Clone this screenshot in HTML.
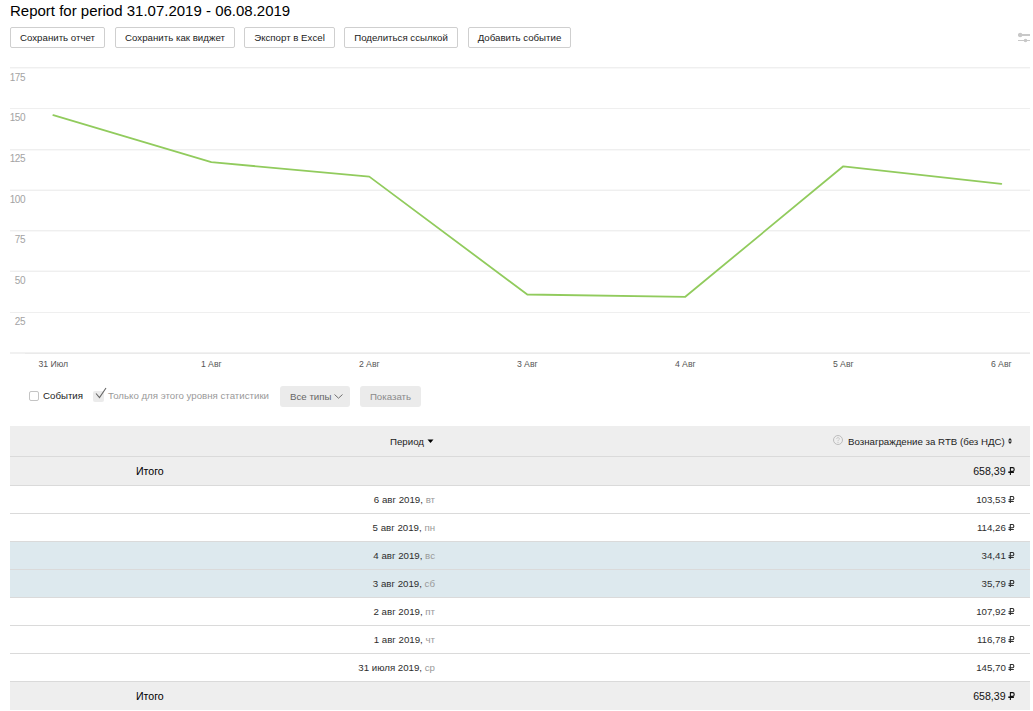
<!DOCTYPE html>
<html><head><meta charset="utf-8">
<style>
*{box-sizing:border-box;margin:0;padding:0}
html,body{width:1033px;height:711px;overflow:hidden;background:#fff}
body{position:relative;font-family:"Liberation Sans",sans-serif;color:#000}
.a{position:absolute;white-space:nowrap}
.title{left:10px;top:2px;font-size:15px;line-height:18px;color:#000}
.btn{position:absolute;top:27px;height:21px;border:1px solid #cfcfcf;border-radius:2px;background:#fff;font-size:9.7px;line-height:19px;text-align:center;color:#222}
.yl{position:absolute;left:0;width:25.3px;text-align:right;font-size:10px;line-height:10px;letter-spacing:-0.35px;color:#a3a3a3}
.xl{position:absolute;width:80px;text-align:center;font-size:8.7px;line-height:10px;color:#555}
.cb{position:absolute;top:391px;width:10px;height:10px;border-radius:2px}
.gbtn{position:absolute;top:386px;height:21px;background:#ebebeb;border-radius:3px;font-size:9.7px;line-height:21px;color:#777;text-align:center}
.row{position:absolute;left:10px;width:1020px;border-bottom:1px solid #dadada}
.hd{top:426px;height:31px;background:#eee}
.tot{background:#eee;height:29px}
.dr{height:28px;background:#fff}
.bl{background:#dde9ee}
.c1{position:absolute;right:595px;font-size:9.7px;line-height:12px;color:#2d2d2d}
.c2{position:absolute;right:15px;font-size:9.7px;line-height:12px;color:#2d2d2d}
.dw{color:#999}
.rub{display:inline-block;width:7px;height:7px;vertical-align:baseline;margin-left:-0.5px}
.tot .rub{height:8px;width:7.5px;margin-left:-1px}
.tot .c2{color:#111}
</style></head><body>
<div class="a title">Report for period 31.07.2019 - 06.08.2019</div>

<div class="btn" style="left:10px;width:95px">Сохранить отчет</div>
<div class="btn" style="left:115px;width:120px">Сохранить как виджет</div>
<div class="btn" style="left:244px;width:91px">Экспорт в Excel</div>
<div class="btn" style="left:344px;width:114px">Поделиться ссылкой</div>
<div class="btn" style="left:468px;width:103px">Добавить событие</div>

<svg class="a" style="left:1016px;top:31px" width="16" height="12" viewBox="0 0 16 12">
  <rect x="2" y="3" width="12" height="2" fill="#c8c8c8"/>
  <circle cx="4.2" cy="4" r="2.2" fill="#c8c8c8"/>
  <rect x="2" y="9" width="12" height="1" fill="#c8c8c8"/>
  <circle cx="9.5" cy="9.5" r="1.8" fill="#c8c8c8"/>
</svg>

<svg class="a" style="left:0;top:0" width="1033" height="380" viewBox="0 0 1033 380">
  <g fill="#efefef">
    <rect x="10" y="67" width="1020" height="1"/>
    <rect x="10" y="108" width="1020" height="1"/>
    <rect x="10" y="149" width="1020" height="1"/>
    <rect x="10" y="190" width="1020" height="1"/>
    <rect x="10" y="230" width="1020" height="1"/>
    <rect x="10" y="271" width="1020" height="1"/>
    <rect x="10" y="312" width="1020" height="1"/>
    <rect x="10" y="352" width="1020" height="2" fill="#f1f1f1"/>
  </g>
  <g fill="#f8f8f8">
    <rect x="10" y="68" width="1020" height="1"/>
    <rect x="10" y="150" width="1020" height="1"/>
    <rect x="10" y="189" width="1020" height="1"/>
    <rect x="10" y="231" width="1020" height="1"/>
    <rect x="10" y="270" width="1020" height="1"/>
  </g>
  <rect x="25" y="353" width="1005" height="1" fill="#eaeaea"/>
  <polyline fill="none" stroke="#91cb5d" stroke-width="1.8" stroke-linejoin="round" stroke-linecap="round"
    points="53.3,115.2 211.3,162.2 369.3,176.6 527.3,294.5 685.3,296.8 843.3,166.3 1001.3,183.8"/>
</svg>

<div class="yl" style="top:73px">175</div>
<div class="yl" style="top:113px">150</div>
<div class="yl" style="top:154px">125</div>
<div class="yl" style="top:195px">100</div>
<div class="yl" style="top:235px">75</div>
<div class="yl" style="top:276px">50</div>
<div class="yl" style="top:317px">25</div>

<div class="xl" style="left:13.3px;top:359px">31 Июл</div>
<div class="xl" style="left:171.3px;top:359px">1 Авг</div>
<div class="xl" style="left:329.3px;top:359px">2 Авг</div>
<div class="xl" style="left:487.3px;top:359px">3 Авг</div>
<div class="xl" style="left:645.3px;top:359px">4 Авг</div>
<div class="xl" style="left:803.3px;top:359px">5 Авг</div>
<div class="xl" style="left:961.3px;top:359px">6 Авг</div>

<div class="cb" style="left:29px;border:1px solid #c4c4c4;background:#fff"></div>
<div class="a" style="left:43px;top:390px;font-size:9.7px;line-height:12px;color:#222">События</div>
<div class="cb" style="left:93px;width:11px;height:11px;background:#ebebeb"></div>
<svg class="a" style="left:94px;top:386px" width="14" height="14" viewBox="0 0 14 14">
  <polyline points="2,7.5 5.5,11.5 12,2" fill="none" stroke="#666" stroke-width="1.1"/>
</svg>
<div class="a" style="left:108px;top:390px;font-size:9.7px;line-height:12px;color:#999">Только для этого уровня статистики</div>
<div class="gbtn" style="left:280px;width:70px;text-align:left;padding-left:10px;color:#666">Все типы<svg style="position:absolute;left:54px;top:8px" width="9" height="5" viewBox="0 0 9 5"><polyline points="0.5,0.5 4.5,4.2 8.5,0.5" fill="none" stroke="#707070" stroke-width="1"/></svg></div>
<div class="gbtn" style="left:360px;width:61px;color:#8a8a8a">Показать</div>

<!-- table -->
<div class="row hd">
  <div class="a" style="left:380px;top:10px;font-size:9.7px;line-height:12px;color:#222">Период</div>
  <svg class="a" style="left:417px;top:13px" width="7" height="5" viewBox="0 0 7 5"><polygon points="0.5,0.5 6.5,0.5 3.5,4" fill="#000"/></svg>
  <svg class="a" style="left:822px;top:8px" width="12" height="12" viewBox="0 0 12 12"><circle cx="6" cy="6" r="4.5" fill="none" stroke="#bdbdbd" stroke-width="1"/><path d="M4.6,4.9 C4.6,3.2 7.4,3.2 7.4,4.8 C7.4,5.9 6,5.9 6,7.2" fill="none" stroke="#c4c4c4" stroke-width="0.9"/><rect x="5.5" y="8" width="1" height="1" fill="#c4c4c4"/></svg>
  <div class="a" style="left:838px;top:10px;font-size:9.7px;line-height:12px;color:#222">Вознаграждение за RTB (без НДС)</div>
  <svg class="a" style="left:998px;top:12px" width="4" height="6" viewBox="0 0 4 6"><polygon points="0,2.6 4,2.6 2,0" fill="#222"/><polygon points="0,3.4 4,3.4 2,6" fill="#222"/></svg>
</div>

<div class="row tot" style="top:457px">
  <div class="a" style="left:126px;top:8px;font-size:10.6px;line-height:13px">Итого</div>
  <div class="c2" style="top:8px;font-size:10.6px;line-height:13px">658,39 <svg class="rub" viewBox="0 0 7.5 8" preserveAspectRatio="none"><path d="M2.4,0 V8 M2.4,0.6 H4.7 C6.7,0.6 6.7,4.4 4.7,4.4 H2.4" fill="none" stroke="currentColor" stroke-width="1.1"/><rect x="0.3" y="4.4" width="5.6" height="1.6" fill="currentColor"/></svg></div>
</div>

<div class="row dr" style="top:486px"><div class="c1" style="top:8px">6 авг 2019, <span class="dw">вт</span></div><div class="c2" style="top:8px">103,53 <svg class="rub" viewBox="0 0 7 8" preserveAspectRatio="none"><path d="M2.3,0 V8 M2.3,0.6 H4.5 C6.3,0.6 6.3,4.3 4.5,4.3 H0.5 M0.5,6.2 H5.8" fill="none" stroke="currentColor" stroke-width="1.1"/></svg></div></div>
<div class="row dr" style="top:514px"><div class="c1" style="top:8px">5 авг 2019, <span class="dw">пн</span></div><div class="c2" style="top:8px">114,26 <svg class="rub" viewBox="0 0 7 8" preserveAspectRatio="none"><path d="M2.3,0 V8 M2.3,0.6 H4.5 C6.3,0.6 6.3,4.3 4.5,4.3 H0.5 M0.5,6.2 H5.8" fill="none" stroke="currentColor" stroke-width="1.1"/></svg></div></div>
<div class="row dr bl" style="top:542px"><div class="c1" style="top:8px">4 авг 2019, <span class="dw">вс</span></div><div class="c2" style="top:8px">34,41 <svg class="rub" viewBox="0 0 7 8" preserveAspectRatio="none"><path d="M2.3,0 V8 M2.3,0.6 H4.5 C6.3,0.6 6.3,4.3 4.5,4.3 H0.5 M0.5,6.2 H5.8" fill="none" stroke="currentColor" stroke-width="1.1"/></svg></div></div>
<div class="row dr bl" style="top:570px"><div class="c1" style="top:8px">3 авг 2019, <span class="dw">сб</span></div><div class="c2" style="top:8px">35,79 <svg class="rub" viewBox="0 0 7 8" preserveAspectRatio="none"><path d="M2.3,0 V8 M2.3,0.6 H4.5 C6.3,0.6 6.3,4.3 4.5,4.3 H0.5 M0.5,6.2 H5.8" fill="none" stroke="currentColor" stroke-width="1.1"/></svg></div></div>
<div class="row dr" style="top:598px"><div class="c1" style="top:8px">2 авг 2019, <span class="dw">пт</span></div><div class="c2" style="top:8px">107,92 <svg class="rub" viewBox="0 0 7 8" preserveAspectRatio="none"><path d="M2.3,0 V8 M2.3,0.6 H4.5 C6.3,0.6 6.3,4.3 4.5,4.3 H0.5 M0.5,6.2 H5.8" fill="none" stroke="currentColor" stroke-width="1.1"/></svg></div></div>
<div class="row dr" style="top:626px"><div class="c1" style="top:8px">1 авг 2019, <span class="dw">чт</span></div><div class="c2" style="top:8px">116,78 <svg class="rub" viewBox="0 0 7 8" preserveAspectRatio="none"><path d="M2.3,0 V8 M2.3,0.6 H4.5 C6.3,0.6 6.3,4.3 4.5,4.3 H0.5 M0.5,6.2 H5.8" fill="none" stroke="currentColor" stroke-width="1.1"/></svg></div></div>
<div class="row dr" style="top:654px"><div class="c1" style="top:8px">31 июля 2019, <span class="dw">ср</span></div><div class="c2" style="top:8px">145,70 <svg class="rub" viewBox="0 0 7 8" preserveAspectRatio="none"><path d="M2.3,0 V8 M2.3,0.6 H4.5 C6.3,0.6 6.3,4.3 4.5,4.3 H0.5 M0.5,6.2 H5.8" fill="none" stroke="currentColor" stroke-width="1.1"/></svg></div></div>

<div class="row tot" style="top:682px;border-bottom:none;height:28px">
  <div class="a" style="left:126px;top:8px;font-size:10.6px;line-height:13px">Итого</div>
  <div class="c2" style="top:8px;font-size:10.6px;line-height:13px">658,39 <svg class="rub" viewBox="0 0 7.5 8" preserveAspectRatio="none"><path d="M2.4,0 V8 M2.4,0.6 H4.7 C6.7,0.6 6.7,4.4 4.7,4.4 H2.4" fill="none" stroke="currentColor" stroke-width="1.1"/><rect x="0.3" y="4.4" width="5.6" height="1.6" fill="currentColor"/></svg></div>
</div>
</body></html>
